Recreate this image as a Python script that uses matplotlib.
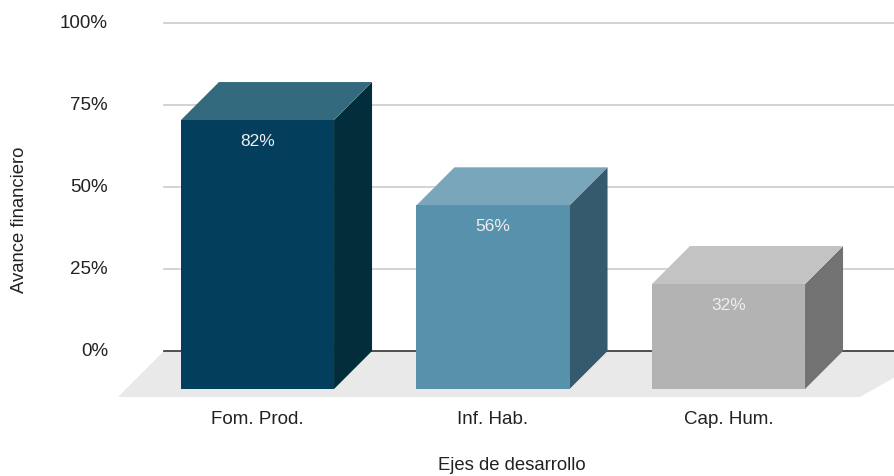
import matplotlib
matplotlib.use("Agg")
import matplotlib.pyplot as plt
from matplotlib.patches import Polygon

plt.rcParams['font.family'] = ['Liberation Sans', 'DejaVu Sans']

# Data
categories = ["Fom. Prod.", "Inf. Hab.", "Cap. Hum."]
values = [82, 56, 32]  # percent
labels = ["82%", "56%", "32%"]
y_ticks = [0, 25, 50, 75, 100]
y_tick_labels = ["0%", "25%", "50%", "75%", "100%"]

# Colours per bar: front, top, side
front_colors = ["#033f5c", "#5891ab", "#b3b3b3"]
top_colors = ["#346a7d", "#79a6bb", "#c3c3c3"]
side_colors = ["#022d3a", "#365a6d", "#727272"]

W, H = 895, 476
DPI = 100
fig = plt.figure(figsize=(W / DPI, H / DPI), dpi=DPI)

px_per_pct = 3.28
px_per_cat = 235.5
ax = fig.add_axes([164 / W, (H - 397) / H, (W - 164) / W, (397 - 23) / H])
ax.set_xlim(-93.5 / px_per_cat, (W - 257.5) / px_per_cat)
ax.set_ylim(-46 / px_per_pct, 100)
ax.axis("off")

x0, x1 = ax.get_xlim()

# 3D depth offsets (data units)
dx = 38 / px_per_cat
dy = 38 / px_per_pct
half = 0.325

# Floor
fdx = 46 / px_per_cat
fdy = 46 / px_per_pct
floor = Polygon([(x0, 0), (x1 + fdx, 0), (x1 - 35 / px_per_cat, -fdy), (x0 - fdx, -fdy)],
                closed=True, facecolor="#e9e9e9", edgecolor="none", zorder=1, clip_on=False)
ax.add_patch(floor)

# Gridlines
for t in y_ticks[1:]:
    ax.plot([x0, x1], [t, t], color="#cccccc", lw=1.2, zorder=2, clip_on=False)
ax.plot([x0, x1], [0, 0], color="#333333", lw=1.2, zorder=2, clip_on=False)

# Y tick labels
for t, lab in zip(y_ticks, y_tick_labels):
    ax.text(x0 - 56 / px_per_cat, t, lab, ha="right", va="center",
            fontsize=13.5, color="#222222", clip_on=False)

# Bars
for i, (v, lab) in enumerate(zip(values, labels)):
    l, r = i - half, i + half
    front = Polygon([(l, -dy), (r, -dy), (r, v - dy), (l, v - dy)],
                    facecolor=front_colors[i], edgecolor="none", zorder=5)
    top = Polygon([(l, v - dy), (r, v - dy), (r + dx, v), (l + dx, v)],
                  facecolor=top_colors[i], edgecolor="none", zorder=5)
    side = Polygon([(r, -dy), (r + dx, 0), (r + dx, v), (r, v - dy)],
                   facecolor=side_colors[i], edgecolor="none", zorder=5)
    for p in (side, top, front):
        ax.add_patch(p)
    ax.text(i, v - dy - 21 / px_per_pct, lab, ha="center", va="center",
            fontsize=12.5, color="#eeeeee", zorder=6)
    ax.text(i, -dy - 31 / px_per_pct, categories[i], ha="center", va="center",
            fontsize=13.5, color="#222222", clip_on=False)

# Axis titles
fig.text(20 / W, 1 - 220 / H, "Avance financiero", rotation=90, ha="center", va="center",
         fontsize=13.3, color="#222222")
fig.text(512 / W, 1 - 465 / H, "Ejes de desarrollo", ha="center", va="center",
         fontsize=13.3, color="#222222")

fig.savefig("out.png", dpi=DPI, facecolor="white")
